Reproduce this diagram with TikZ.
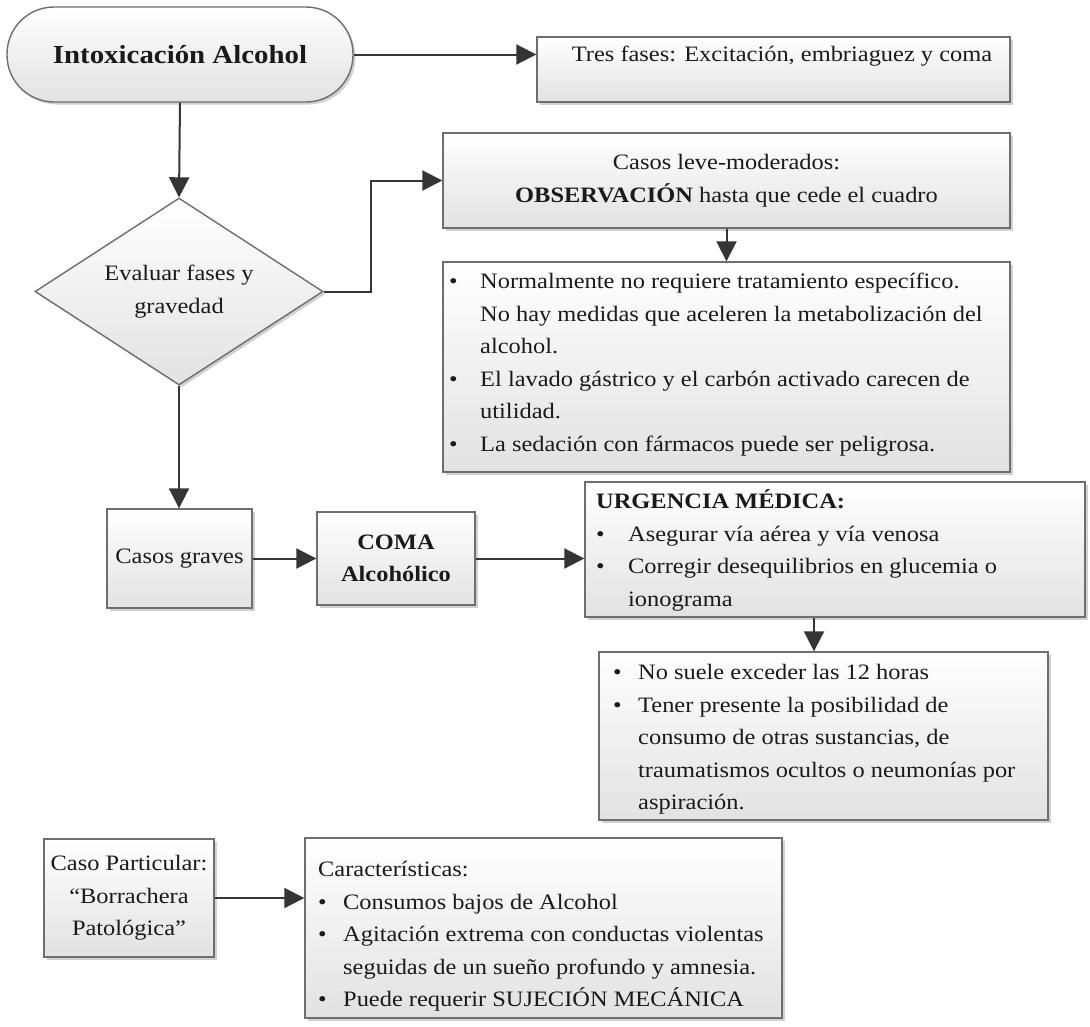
\documentclass[tikz,border=0pt]{standalone}
\usepackage{fontspec}
\setmainfont{Liberation Serif}[FakeStretch=1.11]
\usetikzlibrary{shapes.geometric,arrows.meta,shadows}
\definecolor{bordc}{HTML}{6E6E6E}
\definecolor{arrc}{HTML}{353535}
\definecolor{botc}{HTML}{E2E2E2}
\definecolor{txtc}{HTML}{1A1A1A}
\newcommand\bodyfont{\fontsize{22}{32.5}\selectfont}
\begin{document}
\begin{tikzpicture}[x=1pt,y=-1pt,
 box/.style={draw=bordc,line width=1.4pt,top color=white,bottom color=botc,
   drop shadow={shadow xshift=2.5pt,shadow yshift=-2.5pt,opacity=0.18,fill=black},
   inner sep=0pt,align=center,text=txtc,font=\bodyfont},
 conn/.style={draw=arrc,line width=2pt,-{Triangle[length=20pt,width=20pt]}},
 txt/.style={inner sep=0pt,text=txtc,font=\bodyfont},
]
\fill[white] (0,0) rectangle (1090,1026);
\useasboundingbox (0,0) rectangle (1090,1026);

% nodes
\node[box,rounded corners=47pt,minimum width=346pt,minimum height=95pt,font=\bfseries\fontsize{26}{30}\selectfont] (T) at (180,54.5) {Intoxicación Alcohol};

\node[box,minimum width=473pt,minimum height=65pt] (F) at (773.5,69.5) {};
\node[txt,anchor=base] (Ft) at (782,61.5) {Tres fases: Excitación, embriaguez y coma};

\node[box,diamond,shape aspect=1.54,minimum width=288pt,minimum height=187pt] (D) at (179,291.5) {Evaluar fases y\\gravedad};

\node[box,minimum width=567pt,minimum height=95pt] (L) at (726.5,180.5) {Casos leve-moderados:\\\textbf{OBSERVACIÓN} hasta que cede el cuadro};

\node[box,minimum width=567pt,minimum height=210pt] (B1) at (726.5,367) {};
\node[txt,anchor=north west] (B1t) at (449,265.75) {\begin{tabular}{@{}p{31pt}@{}l@{}}
• & Normalmente no requiere tratamiento específico.\\
 & No hay medidas que aceleren la metabolización del\\
 & alcohol.\\
• & El lavado gástrico y el carbón activado carecen de\\
 & utilidad.\\
• & La sedación con fármacos puede ser peligrosa.
\end{tabular}};

\node[box,minimum width=145pt,minimum height=99pt] (G) at (179.5,558.5) {Casos graves};
\node[box,minimum width=158pt,minimum height=93pt,font=\bfseries\bodyfont] (C) at (396,558.5) {COMA\\Alcohólico};

\node[box,minimum width=500pt,minimum height=135pt] (U) at (835,549.5) {};
\node[txt,anchor=north west] (Ut) at (596,485.75) {\begin{tabular}{@{}p{32pt}@{}l@{}}
\multicolumn{2}{@{}l@{}}{\textbf{URGENCIA MÉDICA:}}\\
• & Asegurar vía aérea y vía venosa\\
• & Corregir desequilibrios en glucemia o\\
 & ionograma
\end{tabular}};

\node[box,minimum width=449pt,minimum height=168pt] (B2) at (823.5,736) {};
\node[txt,anchor=north west] (B2t) at (613,656.75) {\begin{tabular}{@{}p{25pt}@{}l@{}}
• & No suele exceder las 12 horas\\
• & Tener presente la posibilidad de\\
 & consumo de otras sustancias, de\\
 & traumatismos ocultos o neumonías por\\
 & aspiración.
\end{tabular}};

\node[box,minimum width=170pt,minimum height=118pt] (P) at (129,898) {Caso Particular:\\“Borrachera\\Patológica”};

\node[box,minimum width=477pt,minimum height=180pt] (K) at (543.5,928) {};
\node[txt,anchor=north west] (Kt) at (318,853.75) {\begin{tabular}{@{}p{25pt}@{}l@{}}
\multicolumn{2}{@{}l@{}}{Características:}\\
• & Consumos bajos de Alcohol\\
• & Agitación extrema con conductas violentas\\
 & seguidas de un sueño profundo y amnesia.\\
• & Puede requerir SUJECIÓN MECÁNICA
\end{tabular}};

% connectors
\coordinate (J) at (371,291.5);
\coordinate (Ux) at (814,0);
\draw[conn] (T.east) -- (T.east -| F.west);
\draw[conn] (T.south) -- (D.north);
\draw[conn] (D.east) -- (J) |- (L.west);
\draw[conn] (L.south) -- (B1.north);
\draw[conn] (D.south) -- (D.south |- G.north);
\draw[conn] (G.east) -- (C.west);
\draw[conn] (C.east) -- (C.east -| U.west);
\draw[conn] (U.south -| Ux) -- (B2.north -| Ux);
\draw[conn] (P.east) -- (P.east -| K.west);
\end{tikzpicture}
\end{document}
